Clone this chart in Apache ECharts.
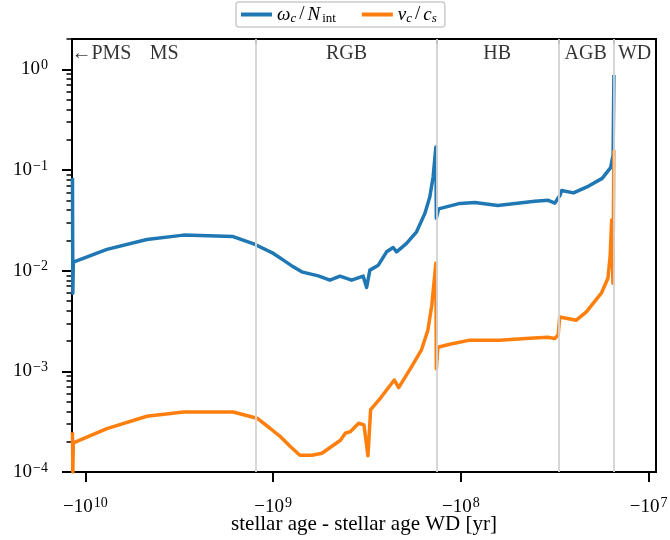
<!DOCTYPE html>
<html><head><meta charset="utf-8">
<script src="https://cdn.jsdelivr.net/npm/echarts@6/dist/echarts.min.js"></script>
<style>html,body{margin:0;padding:0;background:#fff}#c{width:670px;height:540px}</style>
</head><body><div id="c"></div>
<script>
// stellar age - stellar age WD [yr] (negative) and the two ratios
const ageOmega = [-1.17e10, -1.165e10, -1.158e10, -7.67e9, -4.70e9, -3.00e9, -1.632e9, -1.246e9, -9.96e8, -8.81e8,
  -7.80e8, -7.04e8, -5.74e8, -4.98e8, -4.40e8, -3.815e8, -3.31e8, -3.175e8, -3.05e8, -2.75e8,
  -2.485e8, -2.292e8, -2.198e8, -1.945e8, -1.72e8, -1.554e8, -1.462e8, -1.404e8, -1.358e8, -1.350e8,
  -1.313e8, -1.012e8, -8.42e7, -6.36e7, -4.04e7, -3.42e7, -3.155e7, -2.964e7, -2.902e7, -2.512e7,
  -2.085e7, -1.767e7, -1.593e7, -1.545e7, -1.530e7];
const omegaRatio = [0.0831, 0.00597, 0.01215, 0.01625, 0.02042, 0.02254, 0.0218, 0.01821, 0.01483, 0.01272,
  0.01091, 0.00973, 0.00888, 0.00804, 0.00882, 0.00804, 0.00882, 0.00681, 0.01012, 0.01134,
  0.01538, 0.01700, 0.01538, 0.01864, 0.02430, 0.03704, 0.0541, 0.0856, 0.1689, 0.0332,
  0.0411, 0.04656, 0.04742, 0.04446, 0.04886, 0.04999, 0.0469, 0.0560, 0.0625, 0.0592,
  0.0692, 0.0825, 0.1057, 0.1406, 0.878];
const ageVel = [-1.17e10, -1.165e10, -1.158e10, -7.67e9, -4.70e9, -3.00e9, -1.632e9, -1.217e9, -1.038e9, -9.18e8,
  -8.12e8, -7.19e8, -6.20e8, -5.49e8, -4.86e8, -4.375e8, -4.125e8, -3.88e8, -3.50e8, -3.28e8,
  -3.123e8, -3.022e8, -2.671e8, -2.262e8, -2.142e8, -1.835e8, -1.623e8, -1.498e8, -1.427e8, -1.358e8,
  -1.350e8, -1.326e8, -1.144e8, -8.96e7, -6.20e7, -4.30e7, -3.445e7, -3.162e7, -3.03e7, -2.975e7,
  -2.425e7, -2.145e7, -1.785e7, -1.646e7, -1.602e7, -1.573e7, -1.548e7, -1.531e7];
const velRatio = [2.48e-4, 1.0e-4, 1.942e-4, 2.70e-4, 3.58e-4, 3.95e-4, 3.95e-4, 3.42e-4, 2.72e-4, 2.26e-4,
  1.80e-4, 1.466e-4, 1.466e-4, 1.534e-4, 1.80e-4, 2.066e-4, 2.424e-4, 2.515e-4, 3.05e-4, 2.94e-4,
  1.45e-4, 4.17e-4, 5.46e-4, 8.20e-4, 6.90e-4, 1.099e-3, 1.621e-3, 2.56e-3, 4.54e-3, 0.01188,
  1.059e-3, 1.737e-3, 1.86e-3, 2.04e-3, 2.04e-3, 2.13e-3, 2.18e-3, 2.12e-3, 2.29e-3, 3.47e-3,
  3.22e-3, 3.90e-3, 5.97e-3, 8.42e-3, 0.0139, 0.0318, 0.0075, 0.1577];
const phaseBoundaries = [-1.231e9, -1.347e8, -3.01e7, -1.536e7];
const phaseNames = ['←PMS', 'MS', 'RGB', 'HB', 'AGB', 'WD'];
const phaseCenters = [-8.2e9, -3.80e9, -4.06e8, -6.40e7, -2.163e7, -1.187e7];
const phaseLabelLevel = 1.42;
const xTicks = [-1e10, -1e9, -1e8, -1e7];
const yTicks = [1e-4, 1e-3, 1e-2, 1e-1, 1];
const xRange = [-1.177e10, -9.13e6];
const yRange = [1e-4, 2];

const yMinorTicks = [];
for (let e = -4; e <= 0; e++) for (let m = 2; m <= 9; m++) { const v = m * Math.pow(10, e); if (v <= yRange[1]) yMinorTicks.push(v); }

const FONT = '"Liberation Serif", "DejaVu Serif", serif';
const mag = a => -a; // inverted log axis on |age|
const supRich = {
  b: { fontFamily: FONT, fontSize: 19, color: '#000', lineHeight: 22 },
  sup: { fontFamily: FONT, fontSize: 14, color: '#000', lineHeight: 12, verticalAlign: 'top', padding: [0, 0, 0, 1] }
};
const exp10 = v => Math.round(Math.log10(v));
const xFmt = v => '{b|\u221210}{sup|' + exp10(v) + '}';
const yFmt = v => { const e = exp10(v); return '{b|10}{sup|' + (e < 0 ? '\u2212' + (-e) : e) + '}'; };

const xBase = { type: 'log', logBase: 10, inverse: true, min: mag(xRange[1]), max: mag(xRange[0]), splitLine: { show: false }, axisLine: { show: false } };
const yBase = { type: 'log', logBase: 10, min: yRange[0], max: yRange[1], splitLine: { show: false }, axisLine: { show: false } };

const chart = echarts.init(document.getElementById('c'), null, { renderer: 'canvas' });
chart.setOption({
  animation: false,
  backgroundColor: '#fff',
  grid: { left: 72, right: 14, top: 39, bottom: 68, containLabel: false, outerBoundsMode: 'none',
    show: true, borderColor: '#000', borderWidth: 2, backgroundColor: 'transparent' },
  legend: {
    data: ['omega', 'vel'], top: 2, left: 236, icon: 'rect', itemWidth: 31, itemHeight: 4, itemGap: 26,
    padding: [3, 8, 2, 5], borderColor: '#ccc', borderWidth: 1.5, borderRadius: 3, backgroundColor: '#fff',
    formatter: n => n === 'omega' ? '{i|ω}{si|c}{r|/}{i|N}{sr|int}' : '{i|v}{si|c}{r|/}{i|c}{si|s}',
    textStyle: { rich: {
      i: { fontFamily: FONT, fontStyle: 'italic', fontSize: 19, lineHeight: 21, color: '#000' },
      r: { fontFamily: FONT, fontSize: 19, lineHeight: 21, color: '#000', padding: [0, 3, 0, 3] },
      si: { fontFamily: FONT, fontStyle: 'italic', fontSize: 13, lineHeight: 10, verticalAlign: 'bottom', color: '#000' },
      sr: { fontFamily: FONT, fontSize: 13, lineHeight: 10, verticalAlign: 'bottom', color: '#000', padding: [0, 0, 0, 2] }
    } }
  },
  xAxis: [
    Object.assign({}, xBase, {
      position: 'bottom',
      axisTick: { show: true, length: 10, lineStyle: { color: '#000', width: 2 }, customValues: xTicks.map(mag) },
      axisLabel: { show: true, margin: 24, formatter: xFmt, rich: supRich, customValues: xTicks.map(mag) },
      name: 'stellar age - stellar age WD [yr]', nameLocation: 'middle', nameGap: 42, nameMoveOverlap: false,
      nameTextStyle: { fontFamily: FONT, fontSize: 21, color: '#000', verticalAlign: 'top' }
    }),
    Object.assign({}, xBase, {
      position: 'top',
      axisTick: { show: true, inside: true, length: 5, lineStyle: { color: '#000', width: 1.6 }, customValues: phaseBoundaries.map(mag) },
      axisLabel: { show: false }
    })
  ],
  yAxis: [
    Object.assign({}, yBase, {
      position: 'left',
      axisTick: { show: true, length: 10, lineStyle: { color: '#000', width: 2 }, customValues: yTicks },
      axisLabel: { show: true, margin: 24, formatter: yFmt, rich: supRich, customValues: yTicks }
    }),
    Object.assign({}, yBase, {
      position: 'left',
      axisTick: { show: true, length: 5.5, lineStyle: { color: '#000', width: 1.5 }, customValues: yMinorTicks },
      axisLabel: { show: false }
    })
  ],
  series: [
    {
      name: 'phases', type: 'line', data: [], z: 1, silent: true,
      markLine: { silent: true, symbol: ['none', 'none'], label: { show: false },
        lineStyle: { color: '#d3d3d3', width: 1.8, type: 'solid' },
        data: phaseBoundaries.map(b => ({ xAxis: mag(b) })) }
    },
    {
      name: 'omega', type: 'line', z: 3, showSymbol: false, symbol: 'none', clip: true,
      color: '#1f77b4', lineStyle: { width: 3.5, color: '#1f77b4', join: 'round' },
      data: ageOmega.map((a, i) => [mag(a), omegaRatio[i]])
    },
    {
      name: 'vel', type: 'line', z: 4, showSymbol: false, symbol: 'none', clip: true,
      color: '#ff7f0e', lineStyle: { width: 3.5, color: '#ff7f0e', join: 'round' },
      data: ageVel.map((a, i) => [mag(a), velRatio[i]])
    },
    {
      name: 'labels', type: 'scatter', z: 5, silent: true, symbolSize: 1,
      itemStyle: { color: 'rgba(0,0,0,0)' },
      label: { show: true, position: 'inside', formatter: p => p.name, fontFamily: FONT, fontSize: 20, color: '#000' },
      data: phaseCenters.map((c, i) => ({ name: phaseNames[i], value: [mag(c), phaseLabelLevel] }))
    }
  ]
});
</script></body></html>
